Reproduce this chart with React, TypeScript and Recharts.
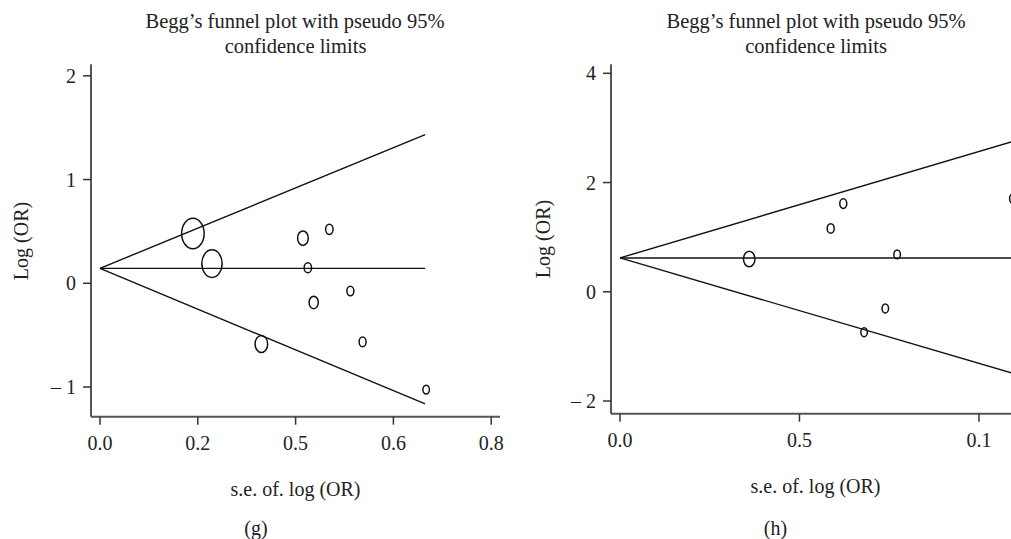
import React from "react";
import { ComposedChart, Scatter, XAxis, YAxis, ZAxis } from "recharts";

// ---------- Panel (g) data ----------
const gSe = [0.19, 0.229, 0.415, 0.469, 0.425, 0.512, 0.437, 0.33, 0.537, 0.667];
const gLogOr = [0.48, 0.19, 0.435, 0.52, 0.15, -0.075, -0.185, -0.585, -0.565, -1.025];
const gWeight = [240, 196, 56, 28, 28, 25, 42, 77, 25, 22];
const gFunnelSe = [0, 0.665];
const gUpper = [0.144, 1.433];
const gCenter = [0.144, 0.144];
const gLower = [0.144, -1.163];
const gXTicks = [0, 0.2, 0.4, 0.6, 0.8];
const gXLabels = ["0.0", "0.2", "0.5", "0.6", "0.8"];
const gYTicks = [-1, 0, 1, 2];
const gYLabels = ["\u2013 1", "0", "1", "2"];

// ---------- Panel (h) data ----------
const hSe = [0.36, 0.587, 0.622, 0.772, 1.095, 0.739, 0.68];
const hLogOr = [0.6, 1.16, 1.615, 0.685, 1.705, -0.305, -0.74];
const hWeight = [64, 25, 25, 22, 25, 22, 22];
const hFunnelSe = [0, 1.15];
const hUpper = [0.62, 2.86];
const hCenter = [0.62, 0.62];
const hLower = [0.62, -1.6];
const hXTicks = [0, 0.5, 1];
const hXLabels = ["0.0", "0.5", "0.1"];
const hYTicks = [-2, 0, 2, 4];
const hYLabels = ["\u2013 2", "0", "2", "4"];

const TITLE1 = "Begg\u2019s funnel plot with pseudo 95%";
const TITLE2 = "confidence limits";
const XLABEL = "s.e. of. log (OR)";
const YLABEL = "Log (OR)";

const FONT = "'Liberation Serif', 'Times New Roman', serif";

const toPts = (xs: number[], ys: number[], ws?: number[]) =>
  xs.map((x, i) => ({ x, y: ys[i], w: ws ? ws[i] : 1 }));

const Ellipse = (props: any) => {
  const { cx, cy, width, payload } = props;
  if (cx == null || cy == null) return <g />;
  const r = width ? width / 2 : Math.sqrt(payload?.w ?? 25);
  return (
    <ellipse
      cx={cx}
      cy={cy}
      rx={Math.max(r * 0.74 - 0.2, 1)}
      ry={Math.max(r - 0.2, 1)}
      fill="none"
      stroke="#111"
      strokeWidth={1.5}
    />
  );
};

const NoShape = () => <g />;

type PanelProps = {
  left: number;
  width: number;
  marginTop: number;
  marginBottom: number;
  yAxisWidth: number;
  xDomain: [number, number];
  yDomain: [number, number];
  xTicks: number[];
  xLabels: string[];
  yTicks: number[];
  yLabels: string[];
  se: number[];
  logOr: number[];
  weight: number[];
  funnelSe: number[];
  upper: number[];
  center: number[];
  lower: number[];
};

const Panel = (p: PanelProps) => {
  const maxW = Math.max(...p.weight);
  const tickStyle = { fontFamily: FONT, fontSize: 20, fill: "#222" };
  return (
    <div style={{ position: "absolute", left: p.left, top: 0 }}>
      <ComposedChart
        width={p.width}
        height={539}
        margin={{ top: p.marginTop, right: 5, bottom: p.marginBottom, left: 0 }}
      >
        <XAxis
          type="number"
          dataKey="x"
          domain={p.xDomain}
          allowDataOverflow
          ticks={p.xTicks}
          interval={0}
          tickFormatter={(v: number) => p.xLabels[p.xTicks.indexOf(v)] ?? String(v)}
          tick={tickStyle}
          tickSize={8}
          tickMargin={11}
          height={40}
          axisLine={{ stroke: "#555", strokeWidth: 2 }}
          tickLine={{ stroke: "#333", strokeWidth: 1.5 }}
        />
        <YAxis
          type="number"
          dataKey="y"
          domain={p.yDomain}
          allowDataOverflow
          ticks={p.yTicks}
          interval={0}
          tickFormatter={(v: number) => p.yLabels[p.yTicks.indexOf(v)] ?? String(v)}
          tick={tickStyle}
          tickSize={8}
          tickMargin={7}
          width={p.yAxisWidth}
          axisLine={{ stroke: "#555", strokeWidth: 2 }}
          tickLine={{ stroke: "#333", strokeWidth: 1.5 }}
        />
        <ZAxis type="number" dataKey="w" domain={[0, maxW]} range={[0, Math.PI * maxW]} />
        <Scatter
          data={toPts(p.funnelSe, p.upper)}
          line={{ stroke: "#111", strokeWidth: 1.4 }}
          shape={NoShape}
          isAnimationActive={false}
        />
        <Scatter
          data={toPts(p.funnelSe, p.center)}
          line={{ stroke: "#111", strokeWidth: 1.4 }}
          shape={NoShape}
          isAnimationActive={false}
        />
        <Scatter
          data={toPts(p.funnelSe, p.lower)}
          line={{ stroke: "#111", strokeWidth: 1.4 }}
          shape={NoShape}
          isAnimationActive={false}
        />
        <Scatter
          data={toPts(p.se, p.logOr, p.weight)}
          shape={Ellipse}
          isAnimationActive={false}
        />
      </ComposedChart>
    </div>
  );
};

export default function App() {
  return (
    <div
      style={{
        position: "fixed",
        left: 0,
        top: 0,
        width: 1011,
        height: 539,
        overflow: "hidden",
        background: "#fff",
      }}
    >
      <Panel
        left={0}
        width={505}
        marginTop={64.3}
        marginBottom={539 - 416.7 - 40}
        yAxisWidth={91}
        xDomain={[-0.0184, 0.818]}
        yDomain={[-1.286, 2.111]}
        xTicks={gXTicks}
        xLabels={gXLabels}
        yTicks={gYTicks}
        yLabels={gYLabels}
        se={gSe}
        logOr={gLogOr}
        weight={gWeight}
        funnelSe={gFunnelSe}
        upper={gUpper}
        center={gCenter}
        lower={gLower}
      />
      <Panel
        left={505}
        width={540}
        marginTop={64.3}
        marginBottom={539 - 413.7 - 40}
        yAxisWidth={106}
        xDomain={[-0.025, 1.17]}
        yDomain={[-2.232, 4.165]}
        xTicks={hXTicks}
        xLabels={hXLabels}
        yTicks={hYTicks}
        yLabels={hYLabels}
        se={hSe}
        logOr={hLogOr}
        weight={hWeight}
        funnelSe={hFunnelSe}
        upper={hUpper}
        center={hCenter}
        lower={hLower}
      />
      <svg
        width={1011}
        height={539}
        style={{ position: "absolute", left: 0, top: 0, pointerEvents: "none" }}
      >
        <g fontFamily={FONT} fill="#222" textAnchor="middle">
          <text x={295} y={28} fontSize={20.5}>{TITLE1}</text>
          <text x={295.5} y={53} fontSize={20.5}>{TITLE2}</text>
          <text x={816} y={28} fontSize={20.5}>{TITLE1}</text>
          <text x={816} y={53} fontSize={20.5}>{TITLE2}</text>
          <text x={295.5} y={496} fontSize={20}>{XLABEL}</text>
          <text x={815.5} y={493} fontSize={20}>{XLABEL}</text>
          <text x={256} y={534.5} fontSize={20}>(g)</text>
          <text x={775.5} y={534.5} fontSize={20}>(h)</text>
          <text transform="translate(28,241) rotate(-90)" fontSize={20}>{YLABEL}</text>
          <text transform="translate(549.5,239) rotate(-90)" fontSize={20}>{YLABEL}</text>
        </g>
      </svg>
    </div>
  );
}
